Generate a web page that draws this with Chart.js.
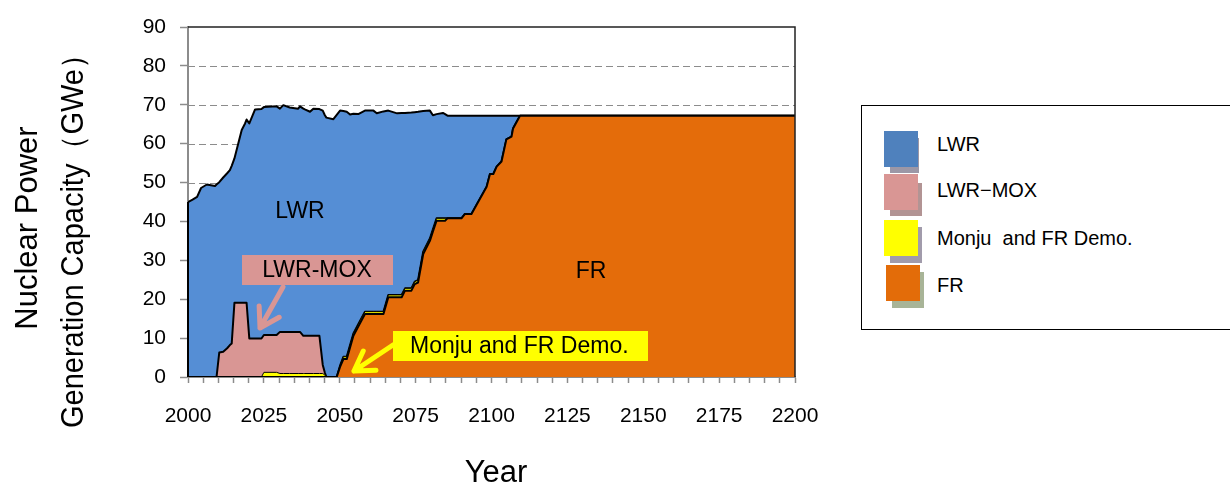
<!DOCTYPE html>
<html>
<head>
<meta charset="utf-8">
<title>Nuclear Power Generation Capacity</title>
<script src="https://cdn.jsdelivr.net/npm/chart.js@4.4.1/dist/chart.umd.min.js"></script>
<style>
    html, body { margin: 0; padding: 0; background: #fff; }
    #wrap {
        position: relative;
        width: 1230px;
        height: 484px;
        overflow: hidden;
        font-family: "Liberation Sans", Arial, sans-serif;
        color: #000;
    }
    #chart { position: absolute; left: 0; top: 0; }
    .legend-box {
        position: absolute;
        left: 861px;
        top: 105px;
        width: 400px;
        height: 225px;
        border: 1.5px solid #000;
        box-sizing: border-box;
        background: #fff;
    }
    .swatch { position: absolute; }
    .legend-text {
        position: absolute;
        left: 937px;
        font-size: 20px;
        line-height: 20px;
        white-space: pre;
    }
</style>
</head>
<body>
<div id="wrap">
    <canvas id="chart" width="1230" height="484"></canvas>
    <div class="legend-box"></div>
    <div id="legend"></div>
</div>

<script>
/* ===================================================
   Nuclear power generation capacity by reactor type
   =================================================== */

// --- Data (GWe) ---
const YEARS = [
    2000, 2001.5, 2003, 2004.3, 2006.2, 2008.9, 2009.4, 2010.3, 2011.6, 2012.9,
    2013.8, 2014.4, 2015.3, 2017.7, 2018.8, 2019.3, 2020.2, 2022.1, 2024.2, 2025.0,
    2029.2, 2030.3, 2031.4, 2033.5, 2036.3, 2036.9, 2038.0, 2038.5, 2040.2, 2041.3,
    2043.3, 2044.4, 2045.1, 2045.6, 2047.9, 2049.0,
    2050.1, 2051.2, 2052.3, 2053.4, 2054.5, 2056.1, 2058.3, 2061.1, 2062.2, 2064.4,
    2066.0, 2068.9, 2070.4, 2071.5, 2073.6, 2074.7, 2075.8, 2077.5, 2079.7, 2080.7,
    2081.9, 2084.0, 2084.7, 2085.5, 2090.1, 2091.2, 2093.4, 2098.4, 2099.5, 2100.6,
    2101.7, 2103.3, 2104.9, 2106.6, 2107.1, 2109.4, 2200
];

const LWR = [
    45.0, 45.6, 46.3, 48.6, 49.5, 49.1, 49.5, 43.8, 44.8, 45.0,
    45.0, 45.7, 37.1, 44.4, 46.1, 47.1, 55.3, 58.9, 59.0, 58.6,
    58.8, 57.4, 58.3, 57.7, 57.4, 58.0, 58.4, 58.2, 57.6, 58.4,
    58.3, 65.4, 66.2, 66.7, 66.3, 67.4,
    65.6, 63.2, 63.0, 59.3, 56.5, 54.0, 51.7, 51.7, 51.0, 51.5,
    47.4, 46.7, 46.8, 45.1, 45.2, 43.6, 43.3, 36.2, 32.9, 29.3,
    26.8, 27.1, 26.8, 26.4, 26.4, 25.3, 25.3, 18.3, 15.0, 15.0,
    13.1, 11.8, 6.1, 5.4, 3.3, 0, 0
];

const MOX = [
    0, 0, 0, 0, 0, 0, 0, 6.3, 6.5, 7.4,
    8.2, 8.6, 19.1, 19.1, 19.1, 19.1, 9.9, 9.9, 9.9, 9.6,
    9.6, 10.7, 10.7, 10.7, 10.7, 10.7, 9.7, 9.7, 9.7, 9.7,
    9.7, 2.2, 0.6, 0, 0, 0,
    0, 0, 0, 0, 0, 0, 0, 0, 0, 0,
    0, 0, 0, 0, 0, 0, 0, 0, 0, 0,
    0, 0, 0, 0, 0, 0, 0, 0, 0, 0,
    0, 0, 0, 0, 0, 0, 0
];

const MONJU = [
    0, 0, 0, 0, 0, 0, 0, 0, 0, 0,
    0, 0, 0, 0, 0, 0, 0, 0, 0, 1.2,
    1.2, 0.9, 0.9, 0.9, 0.9, 0.9, 0.9, 0.9, 0.9, 0.9,
    0.9, 0.9, 0.5, 0, 0, 0,
    0.3, 0.6, 0.6, 0.6, 0.6, 0.6, 0.6, 0.6, 0.6, 0.6,
    0.6, 0.6, 0.6, 0.6, 0.6, 0.6, 0.6, 0.6, 0.6, 0.6,
    0.6, 0.6, 0.6, 0, 0, 0, 0, 0, 0, 0,
    0, 0, 0, 0, 0, 0, 0
];

const FR = [
    0, 0, 0, 0, 0, 0, 0, 0, 0, 0,
    0, 0, 0, 0, 0, 0, 0, 0, 0, 0,
    0, 0, 0, 0, 0, 0, 0, 0, 0, 0,
    0, 0, 0, 0, 0, 0,
    2.6, 4.6, 4.6, 7.6, 10.6, 13.0, 16.2, 16.2, 16.2, 16.2,
    20.5, 20.5, 20.5, 22.2, 22.2, 23.9, 24.3, 31.6, 35.0, 37.4,
    40.2, 40.2, 40.2, 40.8, 40.8, 41.9, 41.9, 48.9, 52.2, 52.2,
    54.1, 55.4, 61.1, 61.8, 63.9, 67.2, 67.2
];

const SERIES_NAMES = ["LWR", "LWR\u2212MOX", "Monju  and FR Demo.", "FR"];
const X_LABEL_YEARS = [2000, 2025, 2050, 2075, 2100, 2125, 2150, 2175, 2200];
const GRID_VALUES = [10, 20, 30, 40, 50, 60, 70, 80];

// --- Colours ---
const COLOR_LWR = "#558ED5";
const COLOR_MOX = "#D99694";
const COLOR_MONJU = "#FFFF00";
const COLOR_FR = "#E46C0A";
const AXIS_GRAY = "#8c8c8c";
const FONT = '"Liberation Sans", Arial, sans-serif';

function series(values) {
    return YEARS.map(function (yr, i) {
        return { x: yr, y: values[i] };
    });
}

// ===================================================
// 1. Legend (HTML, right-hand box)
// ===================================================
var legendItems = [
    { main: "#4F81BD", shadow: "#9C97A6", box: [884, 131], shade: [890, 138, 29, 35], textY: 143.5 },
    { main: COLOR_MOX, shadow: "#B29494", box: [884, 174], shade: [890, 183, 32, 33], textY: 190 },
    { main: COLOR_MONJU, shadow: "#A19BAB", box: [884, 220], shade: [890, 227, 32, 36], textY: 238 },
    { main: "#E36C09", shadow: "#A8B497", box: [886, 265], shade: [892, 272, 32, 36], textY: 285 }
];

var legendEl = document.getElementById("legend");
legendItems.forEach(function (item, i) {
    var sh = document.createElement("div");
    sh.className = "swatch";
    sh.style.cssText = "left:" + item.shade[0] + "px;top:" + item.shade[1] + "px;width:" +
        item.shade[2] + "px;height:" + item.shade[3] + "px;background:" + item.shadow;
    legendEl.appendChild(sh);

    var sw = document.createElement("div");
    sw.className = "swatch";
    sw.style.cssText = "left:" + item.box[0] + "px;top:" + item.box[1] +
        "px;width:34px;height:36px;background:" + item.main;
    legendEl.appendChild(sw);

    var tx = document.createElement("div");
    tx.className = "legend-text";
    tx.style.top = (item.textY - 10) + "px";
    tx.textContent = SERIES_NAMES[i];
    legendEl.appendChild(tx);
});

// ===================================================
// 2. Drawing helpers
// ===================================================
function drawArrow(ctx, x1, y1, x2, y2, color) {
    var ang = Math.atan2(y1 - y2, x1 - x2);
    var len = 22;
    ctx.save();
    ctx.strokeStyle = color;
    ctx.lineWidth = 5;
    ctx.lineCap = "round";
    ctx.lineJoin = "round";
    ctx.beginPath();
    ctx.moveTo(x1, y1);
    ctx.lineTo(x2, y2);
    ctx.moveTo(x2 + len * Math.cos(ang - 0.55), y2 + len * Math.sin(ang - 0.55));
    ctx.lineTo(x2, y2);
    ctx.lineTo(x2 + len * Math.cos(ang + 0.55), y2 + len * Math.sin(ang + 0.55));
    ctx.stroke();
    ctx.restore();
}

function labelBox(ctx, x, y, w, h, color) {
    ctx.fillStyle = color;
    ctx.fillRect(x, y, w, h);
}

// ===================================================
// 3. Plugin: dashed grid, frame, callouts, titles
// ===================================================
const decorPlugin = {
    id: "decor",
    beforeDatasetsDraw: function (chart) {
        var ctx = chart.ctx;
        var area = chart.chartArea;
        var yScale = chart.scales.y;
        ctx.save();
        ctx.strokeStyle = AXIS_GRAY;
        ctx.lineWidth = 1;
        ctx.setLineDash([7, 4]);
        GRID_VALUES.forEach(function (v) {
            var py = Math.round(yScale.getPixelForValue(v)) + 0.5;
            ctx.beginPath();
            ctx.moveTo(area.left, py);
            ctx.lineTo(area.right, py);
            ctx.stroke();
        });
        ctx.restore();
    },
    afterDatasetsDraw: function (chart) {
        var ctx = chart.ctx;
        var area = chart.chartArea;
        var xScale = chart.scales.x;
        var yScale = chart.scales.y;

        ctx.save();

        // plot frame (top + right)
        ctx.strokeStyle = "#222";
        ctx.lineWidth = 1.5;
        ctx.beginPath();
        ctx.moveTo(area.left, area.top);
        ctx.lineTo(area.right, area.top);
        ctx.lineTo(area.right, area.bottom);
        ctx.stroke();

        // left edge of the stacked area
        var firstTotal = LWR[0] + MOX[0] + MONJU[0] + FR[0];
        ctx.strokeStyle = "#000";
        ctx.lineWidth = 2;
        ctx.beginPath();
        ctx.moveTo(xScale.getPixelForValue(YEARS[0]), yScale.getPixelForValue(firstTotal));
        ctx.lineTo(xScale.getPixelForValue(YEARS[0]), yScale.getPixelForValue(0));
        ctx.stroke();

        // area labels
        ctx.fillStyle = "#000";
        ctx.font = "23px " + FONT;
        ctx.textAlign = "center";
        ctx.textBaseline = "middle";
        ctx.fillText("LWR", 300, 212);
        ctx.fillText("FR", 591, 272);

        // LWR-MOX callout
        labelBox(ctx, 242, 255, 151, 30, COLOR_MOX);
        ctx.fillStyle = "#000";
        ctx.fillText("LWR-MOX", 317, 271);
        drawArrow(ctx, 283, 287, 260, 328, COLOR_MOX);

        // Monju callout
        labelBox(ctx, 393, 331, 255, 30, COLOR_MONJU);
        ctx.fillStyle = "#000";
        ctx.textAlign = "left";
        ctx.fillText("Monju and FR Demo.", 410, 347);
        drawArrow(ctx, 393, 345, 354, 371, COLOR_MONJU);

        ctx.restore();
    },
    afterDraw: function (chart) {
        var ctx = chart.ctx;
        ctx.save();
        ctx.fillStyle = "#000";
        ctx.font = "31px " + FONT;
        ctx.textAlign = "center";
        ctx.textBaseline = "alphabetic";

        ctx.translate(37, 228);
        ctx.rotate(-Math.PI / 2);
        ctx.fillText("Nuclear Power", 0, 0);
        ctx.restore();

        ctx.save();
        ctx.fillStyle = "#000";
        ctx.font = "31px " + FONT;
        ctx.textAlign = "center";
        ctx.textBaseline = "alphabetic";
        ctx.translate(83, 234);
        ctx.rotate(-Math.PI / 2);
        ctx.fillText("Generation Capacity\uFF08GWe\uFF09", 0, 0, 388);
        ctx.restore();

        ctx.save();
        ctx.fillStyle = "#000";
        ctx.font = "31px " + FONT;
        ctx.textAlign = "center";
        ctx.textBaseline = "alphabetic";
        ctx.fillText("Year", 496, 482);
        ctx.restore();
    }
};

// ===================================================
// 4. Chart
// ===================================================
Chart.defaults.font.family = FONT;
Chart.defaults.color = "#000";

var ctx = document.getElementById("chart").getContext("2d");

new Chart(ctx, {
    type: "line",
    data: {
        datasets: [
            { label: SERIES_NAMES[3], data: series(FR), backgroundColor: COLOR_FR, borderColor: "#000", borderWidth: 2, fill: "origin" },
            { label: SERIES_NAMES[2], data: series(MONJU), backgroundColor: COLOR_MONJU, borderColor: "#000", borderWidth: 1, fill: "-1" },
            { label: SERIES_NAMES[1], data: series(MOX), backgroundColor: COLOR_MOX, borderColor: "#000", borderWidth: 2, fill: "-1" },
            { label: SERIES_NAMES[0], data: series(LWR), backgroundColor: COLOR_LWR, borderColor: "#000", borderWidth: 2, fill: "-1" }
        ]
    },
    options: {
        responsive: false,
        animation: false,
        events: [],
        layout: { padding: { top: 27, right: 435, bottom: 0, left: 0 } },
        elements: {
            point: { radius: 0 },
            line: { tension: 0, borderJoinStyle: "round" }
        },
        plugins: {
            legend: { display: false },
            tooltip: { enabled: false }
        },
        scales: {
            x: {
                type: "linear",
                min: 2000,
                max: 2200,
                afterFit: function (scale) { scale.height = 107; },
                ticks: {
                    stepSize: 5,
                    maxTicksLimit: 60,
                    autoSkip: false,
                    maxRotation: 0,
                    minRotation: 0,
                    padding: 21,
                    font: { size: 21 },
                    color: "#000",
                    callback: function (value) {
                        return X_LABEL_YEARS.indexOf(value) >= 0 ? String(value) : "";
                    }
                },
                grid: {
                    drawOnChartArea: false,
                    drawTicks: true,
                    tickLength: 6,
                    tickColor: AXIS_GRAY,
                    tickWidth: 1.5
                },
                border: { color: AXIS_GRAY, width: 2 }
            },
            y: {
                stacked: true,
                min: 0,
                max: 90,
                afterFit: function (scale) { scale.width = 188; },
                ticks: {
                    stepSize: 10,
                    padding: 14,
                    font: { size: 21 },
                    color: "#000"
                },
                grid: {
                    drawOnChartArea: false,
                    drawTicks: true,
                    tickLength: 8,
                    tickColor: AXIS_GRAY,
                    tickWidth: 1.5
                },
                border: { color: AXIS_GRAY, width: 2 }
            }
        }
    },
    plugins: [decorPlugin]
});
</script>
</body>
</html>
